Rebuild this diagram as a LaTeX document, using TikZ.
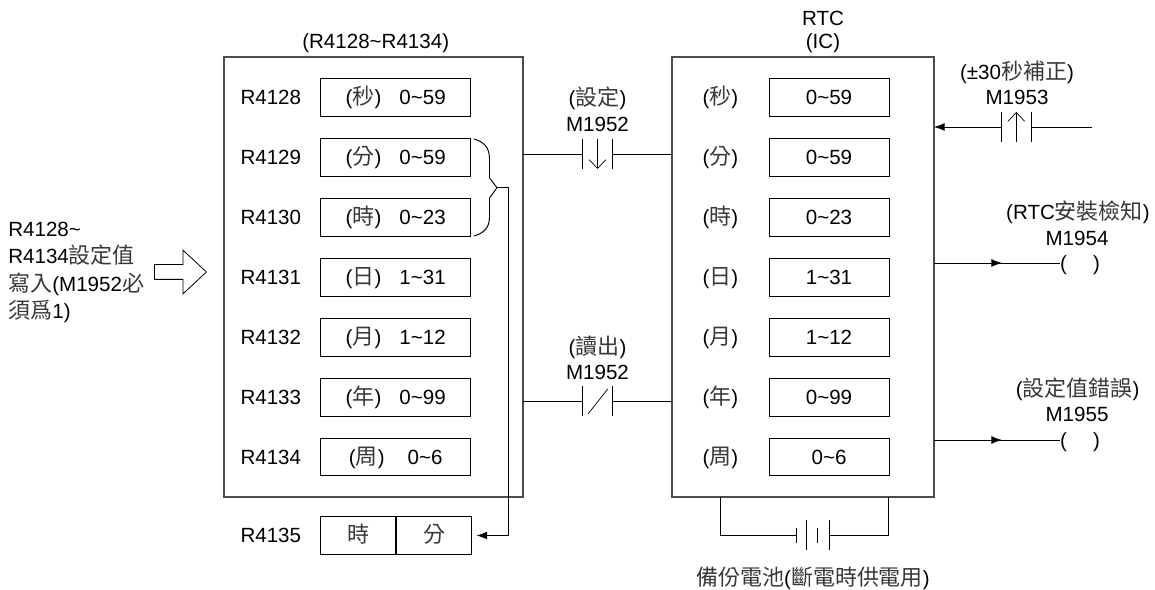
\documentclass[tikz,border=0pt]{standalone}
\usepackage{fontspec}
\setmainfont{Liberation Sans}
\newfontfamily\tcfont[Scale=1.07]{Noto Sans CJK TC}
\usepackage{xcolor}
\usetikzlibrary{arrows.meta,positioning,shapes.arrows}

\newcommand{\tc}[1]{{\tcfont\color{black!78}#1}}
\newcommand{\tld}{\textasciitilde}

\tikzset{
  lbl/.style={inner sep=0pt, text height=9.4pt, text depth=1pt, font=\fontsize{11.7}{14}\selectfont},
  cell/.style={lbl, draw, line width=0.55pt, minimum height=0.75cm},
  outerbox/.style={draw, line width=0.8pt, black!70, minimum height=8.8cm, inner sep=0pt, outer sep=0pt},
  wire/.style={line width=0.55pt},
  flow/.style={wire, -{Latex[length=6pt,width=4.5pt]}},
  barb/.style={line width=0.4pt, -{Straight Barb[length=5pt,width=9.5pt]}},
  plate/.style={line width=0.4pt},
  contact/.style={minimum width=0.6cm, minimum height=0.6cm, inner sep=0pt, outer sep=0pt}
}

\begin{document}
\begin{tikzpicture}[x=0.02cm, y=-0.02cm]
  \useasboundingbox (0,0) rectangle (1155,590);

  %% Outer boxes
  \node[outerbox, minimum width=5.98cm] (regs) at (373.5,277) {};
  \node[outerbox, minimum width=5.24cm] (rtc) at (803,277) {};
  \node[lbl] (regstitle) at (375.7,41) {(R4128\tld R4134)};
  \node[lbl] (rtcname) at (823,18) {RTC};
  \node[lbl] (rtctitle) at (823,41) {(IC)};

  %% Register rows and clock rows
  \foreach \unit/\range/\gapw [count=\i from 0] in {秒/0\tld59/0.36,分/0\tld59/0.36,時/0\tld23/0.36,日/1\tld31/0.36,月/1\tld12/0.36,年/0\tld99/0.36,周/0\tld6/0.46}
  {
    \pgfmathtruncatemacro{\reg}{4128+\i}
    \pgfmathsetmacro{\rowy}{97.5+59.95*\i}
    \node[cell, minimum width=3cm] (reg\i) at (395.7,\rowy) {(\tc{\unit})\hspace{\gapw cm}\range};
    \node[lbl, left=0.376cm of reg\i] (regname\i) {R\reg};
    \node[cell, minimum width=2.4cm] (clk\i) at (829,\rowy) {\range};
    \node[lbl, left=0.6cm of clk\i] (clkname\i) {(\tc{\unit})};
  }

  %% R4135
  \node[cell, minimum width=1.5cm] (hr) at (358.2,535.5) {\tc{時}};
  \node[cell, minimum width=1.5cm, right=0pt of hr] (mn) {\tc{分}};
  \node[lbl, left=0.376cm of hr] (regname7) {R4135};

  %% Brace from R4129,R4130 to R4135
  \coordinate (bracetip) at (497,187.7);
  \coordinate (bracedown) at (508.7,187.7);
  \draw[wire] (474,139) .. controls (484,142) and (489,147) .. (489.5,158) -- (489.5,178)
    -- (bracetip) -- (489.5,198) -- (489.5,218) .. controls (489,228) and (484,233) .. (474,236);
  \draw[wire] (bracetip) -- (bracedown);
  \draw[flow, shorten >=2.5pt] (bracedown) |- (mn.east);

  %% Write contact
  \node[contact] (setc) at (597.5,154) {};
  \node[lbl] (setid) at (597.5,124) {M1952};
  \node[lbl] (settxt) at (597.5,98) {(\tc{設定})};
  \draw[wire] (regs.east |- setc.west) -- (setc.west);
  \draw[wire] (setc.east) -- (rtc.west |- setc.east);
  \draw[barb] (setc.north) -- (setc.south);

  %% Read contact
  \node[contact] (readc) at (597.5,401) {};
  \node[lbl] (readid) at (597.5,372) {M1952};
  \node[lbl] (readtxt) at (597.5,347) {(\tc{讀出})};
  \draw[wire] (regs.east |- readc.west) -- (readc.west);
  \draw[wire] (readc.east) -- (rtc.west |- readc.east);
  \draw[plate] (588,414) -- (607.7,389);

  %% +-30 s contact
  \node[contact] (adjc) at (1016.3,127) {};
  \node[lbl] (adjid) at (1017,97) {M1953};
  \node[lbl] (adjtxt) at (1017,72) {(±30\tc{秒補正})};
  \coordinate (adjend) at (1092,127);
  \draw[flow] (adjc.west) -- (rtc.east |- adjc.west);
  \draw[wire] (adjc.east) -- (adjend);
  \draw[barb] (adjc.south) -- (adjc.north);

  \foreach \c in {setc,readc,adjc}
    \draw[plate] (\c.north west) -- (\c.south west) (\c.north east) -- (\c.south east);

  %% Outputs
  \node[lbl, outer sep=0pt] (coila) at (1080,263) {(\hspace{0.52cm})};
  \node[lbl] (coilaid) at (1077,238) {M1954};
  \node[lbl] (coilatxt) at (1078,212) {(RTC\tc{安裝檢知})};
  \coordinate (tipa) at (1002,263);
  \draw[wire] (rtc.east |- coila.west) -- (coila.west);
  \draw[flow] (rtc.east |- coila.west) -- (tipa);

  \node[lbl, outer sep=0pt] (coilb) at (1080,440) {(\hspace{0.52cm})};
  \node[lbl] (coilbid) at (1077,414) {M1955};
  \node[lbl] (coilbtxt) at (1077.7,389) {(\tc{設定值錯誤})};
  \coordinate (tipb) at (1002,440);
  \draw[wire] (rtc.east |- coilb.west) -- (coilb.west);
  \draw[flow] (rtc.east |- coilb.west) -- (tipb);

  %% Battery
  \node[minimum width=0.66cm, minimum height=0.6cm, inner sep=0pt, outer sep=0pt] (batt) at (812.5,535) {};
  \coordinate (batta) at (720.7,497);
  \coordinate (battb) at (888,497);
  \draw[wire] (batta) |- (batt.west);
  \draw[wire] (batt.east) -| (battb);
  \draw[plate] (batt.west) ++(0,-7.5) -- ++(0,15);
  \draw[plate] (batt.west) ++(10.7,-15) -- ++(0,30);
  \draw[plate] (batt.west) ++(21.7,-7.5) -- ++(0,15);
  \draw[plate] (batt.north east) -- (batt.south east);
  \node[lbl] (batttxt) at (813,578) {\tc{備份電池}(\tc{斷電時供電用})};

  %% Input note
  \node[anchor=west, align=left, inner sep=0pt, font=\fontsize{11.7}{15.6}\selectfont] (note) at (8,272.5)
    {R4128\tld\\R4134\tc{設定值}\\\tc{寫入}(M1952\tc{必}\\\tc{須爲}1)};
  \node[draw, line width=0.45pt, single arrow, single arrow tip angle=86, single arrow head extend=0.29cm,
    minimum height=1.04cm, inner sep=0.14cm, anchor=tip] (inarrow) at (207,272) {};
\end{tikzpicture}
\end{document}
